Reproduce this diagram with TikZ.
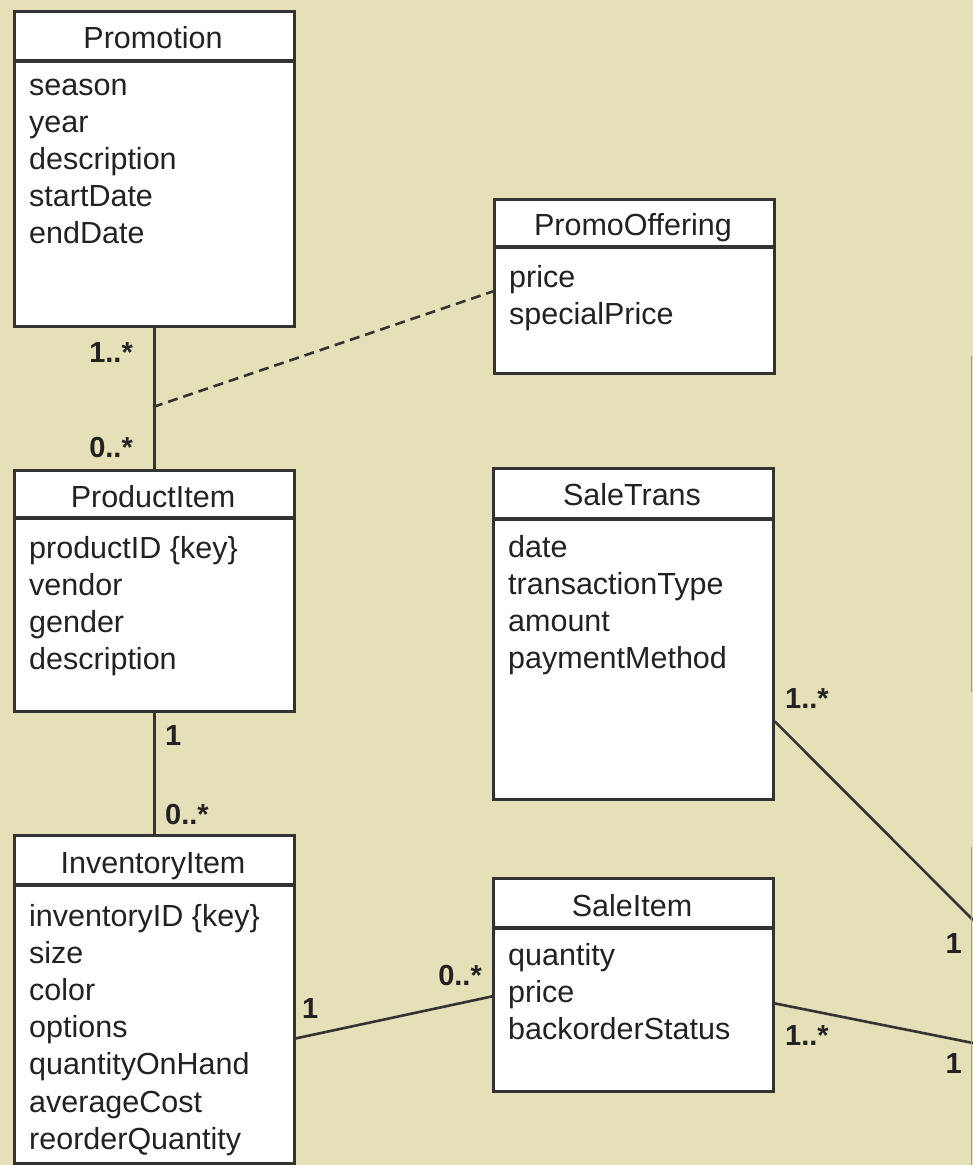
\documentclass[tikz,border=0pt]{standalone}
\usepackage{fontspec}
\setmainfont{Liberation Sans}
\usepackage{tikz}
\definecolor{paper}{HTML}{E5E0B8}
\definecolor{ink}{HTML}{222222}
\definecolor{edgec}{HTML}{333333}
\definecolor{cutc}{HTML}{A39E84}

\begin{document}
\begin{tikzpicture}[x=1pt,y=-1pt,
    classbox/.style={draw=edgec,line width=2.8pt,fill=white,inner sep=0pt,minimum width=280pt,anchor=north west},
    ctitle/.style={ink,font=\fontsize{30.5}{37}\selectfont,anchor=base,inner sep=0pt},
    cattr/.style={ink,font=\fontsize{30.5}{37}\selectfont,anchor=base west,inner sep=0pt},
    mult/.style={ink,font=\fontsize{29}{35}\selectfont\bfseries,inner sep=0pt},
    assoc/.style={edgec,line width=2.6pt}]
  \fill[paper] (0,0) rectangle (973,1165);
  \useasboundingbox (0,0) rectangle (973,1165);
  \foreach \nm/\xx/\yy/\hh/\dv/\tb/\ab/\ttl/\attrs in {
      promo/13/10/315/51/38/85/Promotion/{season,year,description,startDate,endDate},
      offer/493/198/174/49/37/89/PromoOffering/{price,specialPrice},
      prod/13/469/241/49/38/89/ProductItem/{productID \{key\},vendor,gender,description},
      trans/492/467/331/52/38/90/SaleTrans/{date,transactionType,amount,paymentMethod},
      inv/13/834/328/51/39/92/InventoryItem/{inventoryID \{key\},size,color,options,quantityOnHand,averageCost,reorderQuantity},
      sale/492/877/213/51/39/88/SaleItem/{quantity,price,backorderStatus}}{
    \node[classbox,minimum height=\hh pt] (\nm) at (\xx,\yy) {};
    \draw[edgec,line width=3.4pt] (\xx,\yy+\dv) -- (\xx+280,\yy+\dv);
    \node[ctitle] (\nm-t) at (\xx+140,\yy+\tb) {\ttl};
    \foreach \a [count=\i from 0] in \attrs
      \node[cattr] (\nm-a\i) at (\xx+16,\yy+\ab+37.2*\i) {\a};
  }
  \draw[assoc] (promo.south) -- (prod.north);
  \coordinate (pj) at (153,407);
  \draw[assoc,dash pattern=on 10pt off 6pt] (pj) -- ([yshift=-5pt]offer.west);
  \draw[assoc] (prod.south) -- (inv.north);
  \draw[assoc] ([yshift=-39pt]inv.east) -- ([yshift=-11.5pt]sale.west);
  \coordinate (rtop) at (973,920);
  \coordinate (rbot) at (973,1043);
  \draw[assoc] ([yshift=-87.5pt]trans.east) -- (rtop);
  \draw[assoc] ([yshift=-18.5pt]sale.east) -- (rbot);
  \draw[cutc,line width=1.5pt] (971.5,356) -- (971.5,692);
  \draw[cutc,line width=1.5pt] (971.5,847) -- (971.5,1165);
  \node[mult,anchor=base east] (m1) at (133,362) {1..*};
  \node[mult,anchor=base east] (m2) at (133,457) {0..*};
  \node[mult,anchor=base west] (m3) at (165,745) {1};
  \node[mult,anchor=base west] (m4) at (165,824) {0..*};
  \node[mult,anchor=base west] (m5) at (302,1018) {1};
  \node[mult,anchor=base east] (m6) at (482,985) {0..*};
  \node[mult,anchor=base west] (m7) at (785,708) {1..*};
  \node[mult,anchor=base east] (m8) at (962,953) {1};
  \node[mult,anchor=base west] (m9) at (785,1045) {1..*};
  \node[mult,anchor=base east] (m10) at (962,1073) {1};
\end{tikzpicture}
\end{document}
